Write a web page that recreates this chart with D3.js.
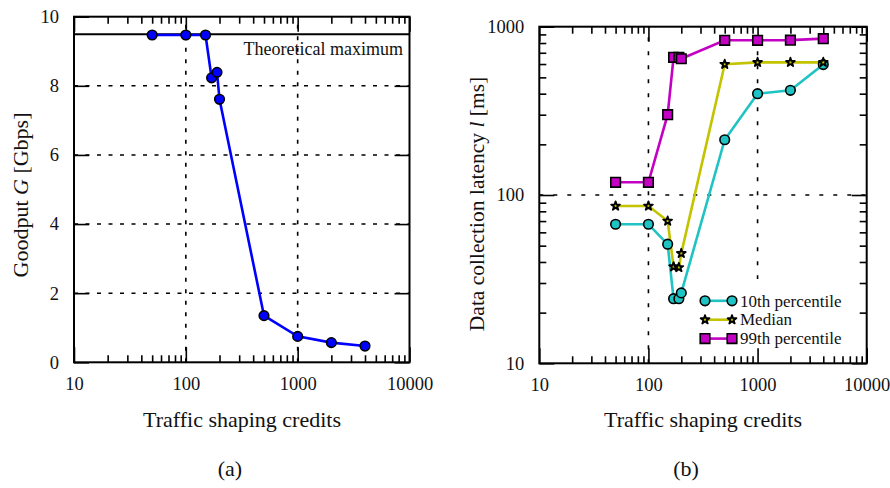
<!DOCTYPE html>
<html>
<head>
<meta charset="utf-8">
<script src="https://cdn.jsdelivr.net/npm/d3@7"></script>
<style>
  html, body { margin: 0; padding: 0; background: #fff; }
  svg { display: block; }
  text { font-family: "Liberation Serif", "Times New Roman", serif; fill: #111; }
</style>
</head>
<body>
<svg id="fig" width="890" height="488"></svg>
<script>
// Traffic shaping credits (x values shared by both panels)
const credits = [50, 100, 150, 170, 190, 200, 500, 1000, 2000, 4000];
// (a) goodput in Gbps
const goodput = [9.47, 9.47, 9.47, 8.23, 8.39, 7.61, 1.35, 0.75, 0.57, 0.47];
const theoreticalMax = 9.49;
// (b) data collection latency in ms
const p10 = [67, 67, 51, 24.2, 24.2, 26.2, 213, 400, 419, 596];
const median = [86, 86, 70, 37.5, 37.1, 45, 598, 614, 614, 614];
const p99 = [119, 119, 300, 658, 658, 645, 830, 830, 832, 849];
// tick labels
const xTicks = [10, 100, 1000, 10000];
const goodputTicks = [0, 2, 4, 6, 8, 10];
const latencyTicks = [10, 100, 1000];
const seriesNames = ["10th percentile", "Median", "99th percentile"];

const svg = d3.select("#fig");
const TICK_FS = 18.5;   // tick labels
const TITLE_FS = 22;    // axis titles and panel captions
const LEGEND_FS = 17;   // legend entries

const minorLog = (lo, hi) => {
  const out = [];
  for (let d = lo; d < hi; d *= 10)
    for (let k = 2; k <= 9; k++) out.push(d * k);
  return out;
};

const clean = sel => {
  sel.select(".domain").remove();
  sel.selectAll("line").attr("stroke", "#000").attr("stroke-width", 1.6);
};
const labelStyle = sel => sel.selectAll("text").attr("font-size", TICK_FS).attr("fill", "#111");

function grid(g, x, y, xGrid, yGrid, dash) {
  const [x0, x1] = x.range();
  const [y0, y1] = y.range();
  const gg = g.append("g").attr("stroke", "#000").attr("stroke-width", 1.6)
    .attr("stroke-dasharray", dash);
  xGrid.forEach(v => gg.append("line").attr("x1", x(v)).attr("x2", x(v)).attr("y1", y0).attr("y2", y1));
  yGrid.forEach(v => gg.append("line").attr("y1", y(v)).attr("y2", y(v)).attr("x1", x0).attr("x2", x1));
}

function xAxes(g, x, y) {
  const [y0, y1] = y.range();
  // bottom axis with labels, ticks pointing inward
  g.append("g").attr("transform", `translate(0,${y0})`)
    .call(d3.axisBottom(x).tickValues(xTicks).tickFormat(d3.format("d"))
      .tickSizeInner(-15).tickSizeOuter(0).tickPadding(15))
    .call(clean).call(labelStyle);
  g.append("g").attr("transform", `translate(0,${y0})`)
    .call(d3.axisBottom(x).tickValues(minorLog(10, 10000)).tickFormat("").tickSizeInner(-7).tickSizeOuter(0))
    .call(clean);
  // mirrored ticks on the top edge
  g.append("g").attr("transform", `translate(0,${y1})`)
    .call(d3.axisTop(x).tickValues(xTicks).tickFormat("").tickSizeInner(-15).tickSizeOuter(0))
    .call(clean);
  g.append("g").attr("transform", `translate(0,${y1})`)
    .call(d3.axisTop(x).tickValues(minorLog(10, 10000)).tickFormat("").tickSizeInner(-7).tickSizeOuter(0))
    .call(clean);
}

function yAxes(g, x, y, ticks, minor) {
  const [x0, x1] = x.range();
  g.append("g").attr("transform", `translate(${x0},0)`)
    .call(d3.axisLeft(y).tickValues(ticks).tickFormat(d3.format("d"))
      .tickSizeInner(-15).tickSizeOuter(0).tickPadding(15))
    .call(clean).call(labelStyle);
  g.append("g").attr("transform", `translate(${x1},0)`)
    .call(d3.axisRight(y).tickValues(ticks).tickFormat("").tickSizeInner(-15).tickSizeOuter(0))
    .call(clean);
  if (minor) {
    g.append("g").attr("transform", `translate(${x0},0)`)
      .call(d3.axisLeft(y).tickValues(minor).tickFormat("").tickSizeInner(-7).tickSizeOuter(0)).call(clean);
    g.append("g").attr("transform", `translate(${x1},0)`)
      .call(d3.axisRight(y).tickValues(minor).tickFormat("").tickSizeInner(-7).tickSizeOuter(0)).call(clean);
  }
}

function frameBox(g, x, y) {
  const [x0, x1] = x.range();
  const [y0, y1] = y.range();
  g.append("rect").attr("x", x0).attr("y", y1).attr("width", x1 - x0).attr("height", y0 - y1)
    .attr("fill", "none").attr("stroke", "#000").attr("stroke-width", 2);
}

// ---------- (a) Goodput ----------
{
  const x = d3.scaleLog().domain([10, 10000]).range([74, 409.5]);
  const y = d3.scaleLinear().domain([0, 10]).range([362.3, 16.7]);
  const g = svg.append("g");
  grid(g, x, y, [100, 1000], [2, 4, 6, 8], "4,7.5");
  xAxes(g, x, y);
  yAxes(g, x, y, goodputTicks, null);

  g.append("line").attr("x1", x(10)).attr("x2", x(10000))
    .attr("y1", y(theoreticalMax)).attr("y2", y(theoreticalMax))
    .attr("stroke", "#000").attr("stroke-width", 2);
  g.append("text").attr("x", 403).attr("y", 55).attr("text-anchor", "end")
    .attr("font-size", 18).text("Theoretical maximum");

  const line = d3.line().x((d, i) => x(credits[i])).y(d => y(d));
  g.append("path").datum(goodput).attr("d", line)
    .attr("fill", "none").attr("stroke", "#0000ff").attr("stroke-width", 2.6);
  g.selectAll("circle.pt").data(goodput).join("circle")
    .attr("cx", (d, i) => x(credits[i])).attr("cy", d => y(d)).attr("r", 4.8)
    .attr("fill", "#0000ff").attr("stroke", "#000").attr("stroke-width", 1.6);
  frameBox(g, x, y);

  g.append("text").attr("transform", "translate(28,195) rotate(-90)")
    .attr("text-anchor", "middle").attr("font-size", TITLE_FS)
    .call(t => {
      t.append("tspan").text("Goodput ");
      t.append("tspan").attr("font-style", "italic").text("G");
      t.append("tspan").text(" [Gbps]");
    });
  g.append("text").attr("x", 242).attr("y", 427).attr("text-anchor", "middle")
    .attr("font-size", TITLE_FS).text("Traffic shaping credits");
  g.append("text").attr("x", 230).attr("y", 476).attr("text-anchor", "middle")
    .attr("font-size", TITLE_FS).text("(a)");
}

// ---------- (b) Latency ----------
{
  const x = d3.scaleLog().domain([10, 10000]).range([539.3, 866.7]);
  const y = d3.scaleLog().domain([10, 1000]).range([363.3, 26.7]);
  const g = svg.append("g");
  grid(g, x, y, [100, 1000], [100], "4,10");
  // opaque legend area hides the grid behind the key
  g.append("rect").attr("x", 697).attr("y", 279).attr("width", 169).attr("height", 84)
    .attr("fill", "#fff");
  xAxes(g, x, y);
  yAxes(g, x, y, latencyTicks, minorLog(10, 1000));

  const colors = ["#1fc3c3", "#c3c300", "#c300c3"];
  const series = [p10, median, p99];
  const line = d3.line().x((d, i) => x(credits[i])).y(d => y(d));
  const star = d3.symbol().type(d3.symbolStar).size(24);
  const square = d3.symbol().type(d3.symbolSquare).size(92);

  function marker(sel, k, cx, cy) {
    if (k === 0) {
      sel.append("circle").attr("cx", cx).attr("cy", cy).attr("r", 4.8)
        .attr("fill", colors[0]).attr("stroke", "#000").attr("stroke-width", 1.6);
    } else if (k === 1) {
      sel.append("path").attr("d", star()).attr("transform", `translate(${cx},${cy})`)
        .attr("fill", colors[1]).attr("stroke", "#000").attr("stroke-width", 1.8)
        .attr("stroke-linejoin", "round");
    } else {
      sel.append("path").attr("d", square()).attr("transform", `translate(${cx},${cy})`)
        .attr("fill", colors[2]).attr("stroke", "#000").attr("stroke-width", 1.6);
    }
  }

  series.forEach((vals, k) => {
    g.append("path").datum(vals).attr("d", line)
      .attr("fill", "none").attr("stroke", colors[k]).attr("stroke-width", 2.6);
  });
  series.forEach((vals, k) => {
    const mg = g.append("g");
    vals.forEach((v, i) => marker(mg, k, x(credits[i]), y(v)));
  });

  // legend
  const legend = g.append("g");
  seriesNames.forEach((name, k) => {
    const ly = 300.8 + k * 18.9;
    legend.append("line").attr("x1", 705).attr("x2", 732).attr("y1", ly).attr("y2", ly)
      .attr("stroke", colors[k]).attr("stroke-width", 2.6);
    marker(legend, k, 705, ly);
    marker(legend, k, 732, ly);
    legend.append("text").attr("x", 740).attr("y", ly).attr("dy", "0.34em")
      .attr("font-size", LEGEND_FS).text(name);
  });
  frameBox(g, x, y);

  g.append("text").attr("transform", "translate(484,204) rotate(-90)")
    .attr("text-anchor", "middle").attr("font-size", 21.5)
    .call(t => {
      t.append("tspan").text("Data collection latency ");
      t.append("tspan").attr("font-style", "italic").text("l");
      t.append("tspan").text(" [ms]");
    });
  g.append("text").attr("x", 703).attr("y", 427).attr("text-anchor", "middle")
    .attr("font-size", TITLE_FS).text("Traffic shaping credits");
  g.append("text").attr("x", 686).attr("y", 476).attr("text-anchor", "middle")
    .attr("font-size", TITLE_FS).text("(b)");
}
</script>
</body>
</html>
